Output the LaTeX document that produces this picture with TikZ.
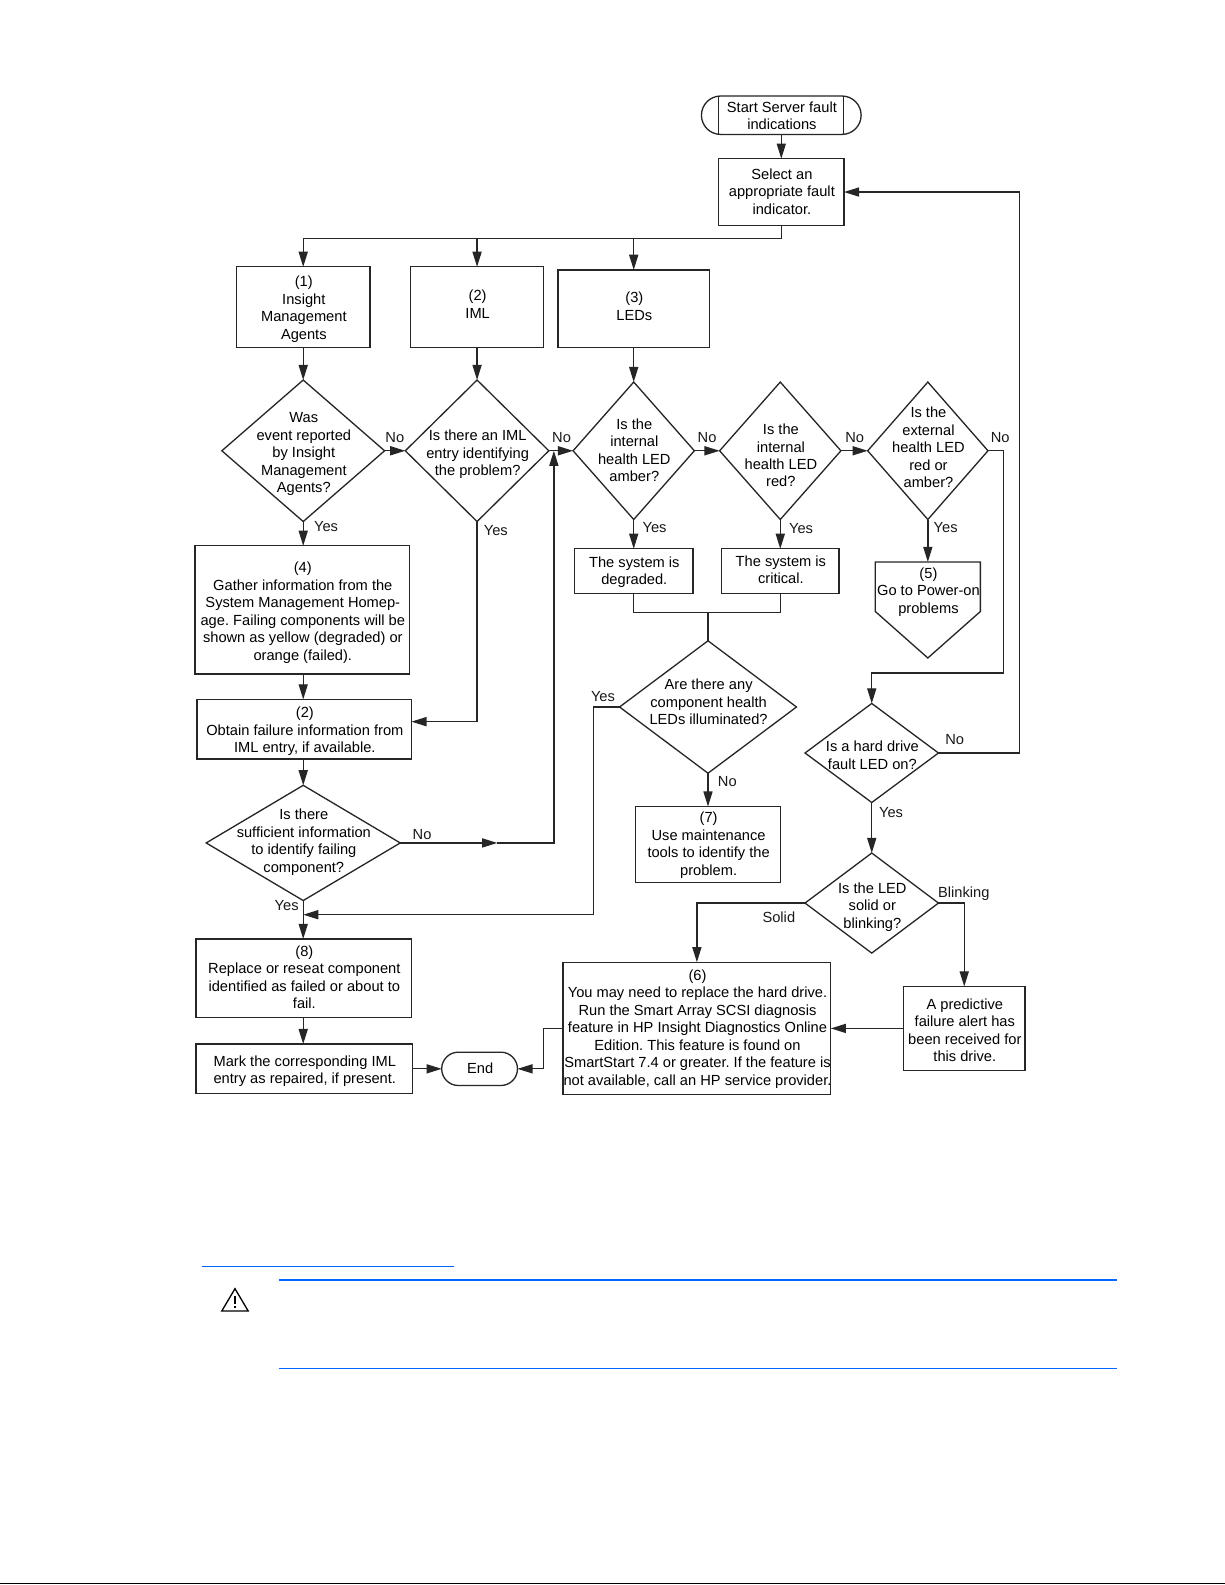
\documentclass[tikz,border=0pt]{standalone}
\usepackage{fontspec}
\setmainfont{Liberation Sans}
\usetikzlibrary{arrows.meta,shapes.geometric,shapes.misc,calc}
\definecolor{hpblue}{HTML}{0066FF}
\frenchspacing
\newsavebox{\txbox}
% zero-size centred text, so that the shape keeps the exact size given
\newcommand{\tx}[2][0]{\sbox{\txbox}{\fontsize{14.5}{17.3}\selectfont\frenchspacing\begin{tabular}{@{}c@{}}#2\end{tabular}}%
  \smash{\makebox[0pt]{\hspace{1.2pt}\raisebox{\dimexpr-0.5\ht\txbox+0.5\dp\txbox-#1pt-2.4pt}{\usebox{\txbox}}}}}
\tikzset{
  every node/.style={inner sep=0pt,outer sep=0pt},
  flow/.style={draw=black!85,line width=1.3pt},
  boxn/.style={flow,rectangle,minimum width=#1},
  boxh/.style={minimum height=#1},
  dia/.style={flow,diamond,aspect=1,minimum width=#1},
  lab/.style={font=\fontsize{14.5}{17.3}\selectfont,text=black!90,yshift=-0.8pt,xshift=0.6pt},
  arrow/.style={draw=black!85,line width=1.3pt,-{Triangle[length=15pt,width=9pt]}},
  plain/.style={draw=black!85,line width=1.3pt},
}
\begin{document}
\begin{tikzpicture}[x=1pt,y=-1pt]
\useasboundingbox[fill=white] (0,0) rectangle (1212,1568.2);

% top
\node[flow,rounded rectangle,minimum width=158pt,minimum height=38pt] (start) at (773,114) {\tx{Start Server fault\\indications}};
\coordinate (sl1) at (711,95); \coordinate (sl2) at (711,133);
\coordinate (sr1) at (835,95); \coordinate (sr2) at (835,133);
\draw[plain,line width=1pt] (sl1) -- (sl2) (sr1) -- (sr2);
\node[boxn=124pt,boxh=66pt] (select) at (773,190) {\tx[-1]{Select an\\appropriate fault\\indicator.}};
\coordinate (bus) at (773,236);

% row 1
\node[boxn=132pt,boxh=80pt] (b1) at (300,304) {\tx{(1)\\Insight\\Management\\Agents}};
\node[boxn=132pt,boxh=80pt] (b2) at (472,304) {\tx[-3.5]{(2)\\IML}};
\node[boxn=150pt,boxh=77pt] (b3) at (627,305.5) {\tx[-3]{(3)\\LEDs}};

% decision row
\node[dia=161pt,minimum height=140pt] (d1) at (300,446) {\tx[1]{Was\\event reported\\by Insight\\Management\\Agents?}};
\node[dia=142pt,minimum height=140pt] (d2) at (472,446) {\tx[1.5]{Is there an IML\\entry identifying\\the problem?}};
\node[dia=120pt,minimum height=136pt] (d3) at (627,446) {\tx[-1]{Is the\\internal\\health LED\\amber?}};
\node[dia=120pt,minimum height=136pt] (d4) at (772,446) {\tx[4]{Is the\\internal\\health LED\\red?}};
\node[dia=119pt,minimum height=136pt] (d5) at (918,446) {\tx[-4]{Is the\\external\\health LED\\red or\\amber?}};

% left column
\node[boxn=212pt,boxh=127pt] (b4) at (299,603.5) {\tx[0.5]{(4)\\Gather information from the\\System Management Homep-\\age. Failing components will be\\shown as yellow (degraded) or\\orange (failed).}};
\node[boxn=212pt,boxh=59pt] (b2b) at (301,721.5) {\tx{(2)\\Obtain failure information from\\IML entry, if available.}};
\node[dia=192pt,minimum height=114pt] (d7) at (300,834) {\tx[-3]{Is there\\sufficient information\\to identify failing\\component?}};
\node[boxn=213pt,boxh=78pt] (b8) at (300.5,968) {\tx[-2]{(8)\\Replace or reseat component\\identified as failed or about to\\fail.}};
\node[boxn=214pt,boxh=49pt] (mark) at (301,1057.5) {\tx{Mark the corresponding IML\\entry as repaired, if present.}};
\node[flow,rounded rectangle,minimum width=75pt,minimum height=33pt] (end) at (474.5,1057.5) {\tx[-1]{End}};

% centre
\node[boxn=117pt,boxh=44pt] (sd) at (627,565) {\tx[-1]{The system is\\degraded.}};
\node[boxn=116pt,boxh=44pt] (sc) at (772,565) {\tx[-2]{The system is\\critical.}};
\node[dia=175pt,minimum height=131pt] (d8) at (700.5,699.5) {\tx[-5.5]{Are there any\\component health\\LEDs illuminated?}};
\node[boxn=143pt,boxh=75pt] (b7) at (700.5,835.5) {\tx[-1.5]{(7)\\Use maintenance\\tools to identify the\\problem.}};

% pentagon
\node[minimum width=104pt,minimum height=95pt] (b5) at (918,603.5) {\tx[-20]{(5)\\Go to Power-on\\problems}};
\coordinate (b5sw) at (866,605); \coordinate (b5se) at (970,605); \coordinate (b5tip) at (918,651);
\draw[plain,line join=miter] (b5.north west) -- (b5.north east) -- (b5se) -- (b5tip) -- (b5sw) -- cycle;

% right
\node[dia=132pt,minimum height=98pt] (d9) at (862.5,745) {\tx[1.5]{Is a hard drive\\fault LED on?}};
\node[dia=132pt,minimum height=99pt] (d10) at (862.5,893.5) {\tx[1.5]{Is the LED\\solid or\\blinking?}};
\node[boxn=265pt,boxh=131pt] (b6) at (689.5,1017.5) {\tx[-1.5]{(6)\\You may need to replace the hard drive.\\Run the Smart Array SCSI diagnosis\\feature in HP Insight Diagnostics Online\\Edition. This feature is found on\\SmartStart 7.4 or greater. If the feature is\\not available, call an HP service provider.}};
\node[boxn=120pt,boxh=83pt] (ba) at (954,1017.5) {\tx[1]{A predictive\\failure alert has\\been received for\\this drive.}};

% routing points
\coordinate (c1) at (993,666);
\coordinate (c2) at (1009,745);
\coordinate (c3) at (538,1017.5);
\coordinate (c4) at (587,699.5);
\coordinate (c5) at (300,905);
\coordinate (c6) at (700.5,606);
\coordinate (c7) at (472,714);
\coordinate (c8) at (300,667);
\coordinate (c9) at (300,692);
\coordinate (c10) at (300,751);
\coordinate (c11) at (300,1007);
\coordinate (c12) at (300,1033);
\coordinate (jm) at (492,834);
\coordinate (j1) at (548,834);
\coordinate (j2) at (548,446);

% connectors
\draw[arrow] (start) -- (select);
\draw[plain] (select) -- (bus);
\draw[arrow] (bus) -| (b1.north);
\draw[arrow] (bus) -| (b2.north);
\draw[arrow] (bus) -| (b3.north);
\draw[arrow] (b1) -- (d1);
\draw[arrow] (b2) -- (d2);
\draw[arrow] (b3) -- (d3);
\draw[arrow] (d1) -- (d2);
\draw[arrow] (d2) -- (d3);
\draw[arrow] (d3) -- (d4);
\draw[arrow] (d4) -- (d5);
\draw[arrow] (d1.south) -- (d1.south |- b4.north);
\draw[arrow] (c8) -- (c9);
\draw[arrow] (d2.south) -- (c7) -- (c7 -| b2b.east);
\draw[arrow] (c10) -- (d7.north);
\draw[plain] (d7.south) -- (c5);
\draw[arrow] (c5) -- (c5 |- b8.north);
\draw[arrow] (c4) |- (c5);
\draw[plain] (d8.west) -- (c4);
\draw[arrow] (c11) -- (c12);
\draw[arrow] (mark) -- (end);
\draw[arrow] (d7) -- (jm);
\draw[arrow] (jm) -- (j1) -- (j2);
\draw[arrow] (d3) -- (sd);
\draw[arrow] (d4) -- (sc);
\draw[arrow] (d5) -- (b5);
\draw[plain] (sd.south) |- (c6) -| (sc.south);
\draw[plain] (c6) -- (d8.north);
\draw[arrow] (d8) -- (b7);
\draw[arrow] (d5.east) -| (c1) -| (d9.north);
\draw[arrow] (d9) -- (d10);
\draw[plain] (d9.east) -- (c2);
\draw[arrow] (c2) |- (select.east);
\draw[arrow] (d10.west) -| (b6.north);
\draw[arrow] (d10.east) -| (ba.north);
\draw[arrow] (ba) -- (b6);
\draw[plain] (b6.west) -- (c3);
\draw[arrow] (c3) |- (end.east);

% connector labels
\node[lab] (l1) at (390,432) {No};
\node[lab] (l2) at (555,432) {No};
\node[lab] (l3) at (699,432) {No};
\node[lab] (l4) at (845,432) {No};
\node[lab] (l5) at (989,432) {No};
\node[lab] (l6) at (322,520) {Yes};
\node[lab] (l7) at (490,524) {Yes};
\node[lab] (l8) at (647,521) {Yes};
\node[lab] (l9) at (792,522) {Yes};
\node[lab] (l10) at (935,521) {Yes};
\node[lab] (l11) at (596,688) {Yes};
\node[lab] (l12) at (719,772) {No};
\node[lab] (l13) at (944,731) {No};
\node[lab] (l14) at (417,825) {No};
\node[lab] (l15) at (283,895) {Yes};
\node[lab] (l16) at (881,803) {Yes};
\node[lab] (l17) at (770,907) {Solid};
\node[lab] (l18) at (953,883) {Blinking};

% page furniture
\draw[hpblue,line width=1pt] (200,1253) -- (449,1253);
\draw[hpblue,line width=2pt] (276,1266) -- (1105,1266);
\draw[hpblue,line width=1pt] (276,1354) -- (1105,1354);
\draw[black,line width=1.3pt,line join=miter] (232.5,1275) -- (245.5,1297) -- (219.5,1297) -- cycle;
\draw[black,line width=1.5pt] (232.5,1282) -- (232.5,1290);
\fill[black] (231.6,1291.8) rectangle (233.4,1294);
\draw[black,line width=1pt] (0,1567) -- (1212,1567);
\end{tikzpicture}
\end{document}
